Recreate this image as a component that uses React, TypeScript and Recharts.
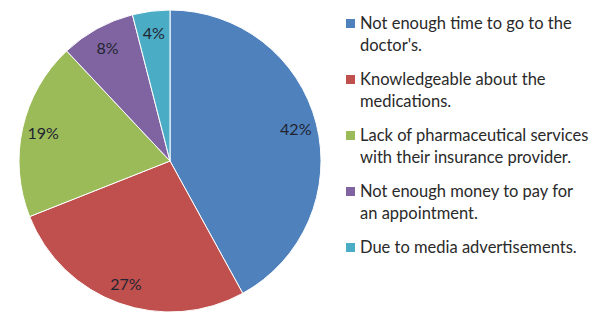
import React from 'react';
import { PieChart, Pie, Cell, Legend } from 'recharts';

const categories = [
  "Not enough time to go to the\ndoctor's.",
  'Knowledgeable about the\nmedications.',
  'Lack of pharmaceutical services\nwith their insurance provider.',
  'Not enough money to pay for\nan appointment.',
  'Due to media advertisements.',
];
const values = [42, 27, 19, 8, 4];
const colors = ['#4F81BD', '#C0504D', '#9BBB59', '#8064A2', '#4BACC6'];

const data = categories.map((name, i) => ({ name, value: values[i] }));

const FONT = 'Lato, "Open Sans", sans-serif';

const RADIAN = Math.PI / 180;
const renderLabel = (props: any) => {
  const { cx, cy, midAngle, outerRadius, value } = props;
  const r = outerRadius * 0.86;
  const x = cx + r * Math.cos(-midAngle * RADIAN);
  const y = cy + r * Math.sin(-midAngle * RADIAN);
  return (
    <text x={x} y={y} textAnchor="middle" dominantBaseline="central" fill="#1f2430" fontSize={16} fontFamily={FONT}>
      {`${value}%`}
    </text>
  );
};

const renderLegend = () => (
  <div style={{ fontFamily: FONT, fontSize: 16.5, color: '#2a2a2a', lineHeight: '22px' }}>
    {categories.map((c, i) => (
      <div key={i} style={{ display: 'flex', alignItems: 'flex-start', marginBottom: 12 }}>
        <div style={{ width: 9, height: 9, background: colors[i], marginTop: 7, marginRight: 5, flexShrink: 0 }} />
        <div style={{ whiteSpace: 'pre-line' }}>{c}</div>
      </div>
    ))}
  </div>
);

export default function App() {
  return (
    <div style={{ position: 'absolute', left: 0, top: 0, width: 604, height: 316, background: '#fff' }}>
      <PieChart width={604} height={316} margin={{ top: 0, right: 0, bottom: 0, left: 0 }}>
        <Pie
          data={data}
          dataKey="value"
          nameKey="name"
          cx={170}
          cy={161}
          outerRadius={151}
          startAngle={90}
          endAngle={-270}
          stroke="#ffffff"
          strokeWidth={1}
          label={renderLabel}
          labelLine={false}
          isAnimationActive={false}
        >
          {data.map((d, i) => (
            <Cell key={i} fill={colors[i]} />
          ))}
        </Pie>
        <Legend
          content={renderLegend}
          layout="vertical"
          verticalAlign="top"
          align="right"
          wrapperStyle={{ position: 'absolute', left: 346, top: 12, width: 258 }}
        />
      </PieChart>
    </div>
  );
}
